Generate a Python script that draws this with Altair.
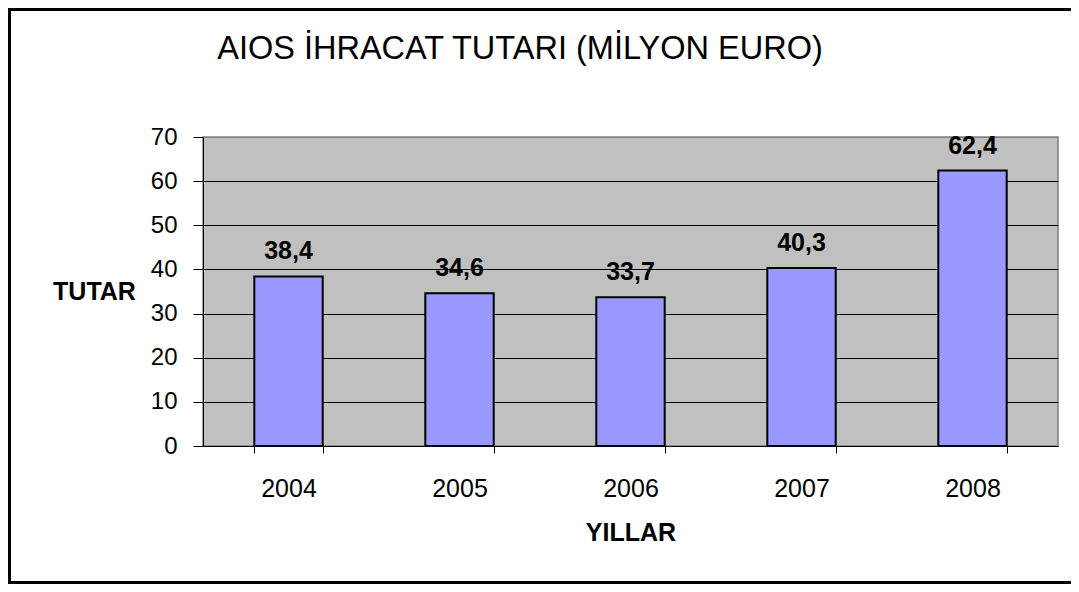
import altair as alt
import pandas as pd

years = ["2004", "2005", "2006", "2007", "2008"]
values = [38.4, 34.6, 33.7, 40.3, 62.4]
y_ticks = [0, 10, 20, 30, 40, 50, 60, 70]
title_text = "AIOS İHRACAT TUTARI (MİLYON EURO)"

df = pd.DataFrame({"yil": years, "tutar": values})

FONT = "Liberation Sans"

x_enc = alt.X(
    "yil:N",
    sort=years,
    scale=alt.Scale(paddingInner=0.6, paddingOuter=0.3),
    axis=alt.Axis(
        title="YILLAR",
        titleFontSize=25,
        titleFontWeight="bold",
        titleFont=FONT,
        titleColor="#000000",
        titleBaseline="alphabetic",
        titleY=94,
        labelAngle=0,
        labelFontSize=25,
        labelFont=FONT,
        labelColor="#000000",
        labelBaseline="alphabetic",
        labelPadding=43,
        tickBand="extent",
        tickSize=7,
        tickColor="#000000",
        domainColor="#000000",
        grid=False,
    ),
)
y_enc = alt.Y(
    "tutar:Q",
    scale=alt.Scale(domain=[0, 70], nice=False),
    axis=alt.Axis(
        title="TUTAR",
        titleAngle=0,
        titleFontSize=25,
        titleFontWeight="bold",
        titleFont=FONT,
        titleColor="#000000",
        titleAlign="center",
        titleBaseline="alphabetic",
        titleX=-109,
        titleY=162,
        values=y_ticks,
        labelFontSize=24,
        labelFont=FONT,
        labelColor="#000000",
        labelPadding=16,
        tickSize=10,
        tickColor="#000000",
        domainColor="#000000",
        grid=True,
        gridColor={"condition": {"test": "datum.value >= 70", "value": "#808080"}, "value": "#000000"},
        gridWidth=1,
    ),
)

bars = alt.Chart(df).mark_bar(fill="#9999FF", stroke="#000000", strokeWidth=2).encode(x=x_enc, y=y_enc)

labels = alt.Chart(df).transform_calculate(
    lab="replace(format(datum.tutar, '.1f'), '.', ',')"
).mark_text(
    fontSize=25, fontWeight="bold", font=FONT, color="#000000", baseline="alphabetic", dy=-17
).encode(x=alt.X("yil:N", sort=years), y=alt.Y("tutar:Q"), text="lab:N")

one = pd.DataFrame({"t": [title_text]})

border = alt.Chart(one).mark_rect(
    fill="transparent", stroke="#000000", strokeWidth=3
).encode(
    x=alt.value(-193.5), x2=alt.value(900), y=alt.value(-127.5), y2=alt.value(445.5)
)

title = alt.Chart(one).mark_text(
    fontSize=32.5, font=FONT, color="#000000", align="center", baseline="alphabetic"
).encode(x=alt.value(317), y=alt.value(-78), text="t:N")

chart = alt.layer(border, bars, labels, title).properties(
    width=855,
    height=309,
    background="#FFFFFF",
    autosize=alt.AutoSizeParams(type="none"),
    padding={"left": 195, "top": 129, "right": 13, "bottom": 138},
).configure_view(fill="#C0C0C0", stroke="#808080", strokeWidth=1.5)

chart.save("out.html", embed_options={"renderer": "svg", "actions": False})
